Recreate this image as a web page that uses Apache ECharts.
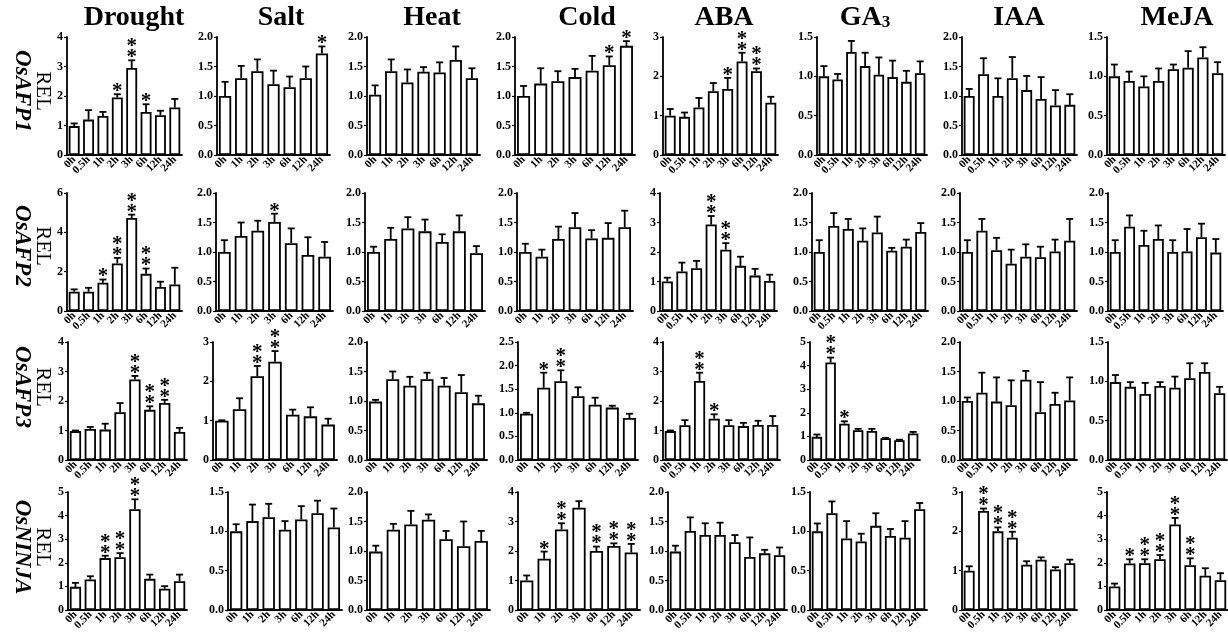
<!DOCTYPE html>
<html>
<head>
<meta charset="utf-8">
<script src="https://cdn.jsdelivr.net/npm/echarts@6/dist/echarts.min.js"></script>
<style>
  html, body { margin: 0; padding: 0; background: #fff; }
  #main { width: 1228px; height: 634px; }
</style>
</head>
<body>
<div id="main"></div>
<script>
// categories
const conditions = ['Drought', 'Salt', 'Heat', 'Cold', 'ABA', 'GA3', 'IAA', 'MeJA'];
const genes = ['OsAFP1', 'OsAFP2', 'OsAFP3', 'OsNINJA'];
const times8 = ['0h', '0.5h', '1h', '2h', '3h', '6h', '12h', '24h'];
const times7 = ['0h', '1h', '2h', '3h', '6h', '12h', '24h'];
const timeSets = [times8, times7, times7, times7, times8, times8, times8, times8];

// y axis max / step per panel (row = gene)
const yMax = [
    [4, 2, 2, 2, 3, 1.5, 2, 1.5],
    [6, 2, 2, 2, 4, 2, 2, 2],
    [4, 3, 2, 2.5, 4, 5, 2, 1.5],
    [5, 1.5, 2, 4, 2, 1.5, 3, 5]
];
const yStep = [
    [1, 0.5, 0.5, 0.5, 1, 0.5, 0.5, 0.5],
    [2, 0.5, 0.5, 0.5, 1, 0.5, 0.5, 0.5],
    [1, 1, 0.5, 0.5, 1, 1, 0.5, 0.5],
    [1, 0.5, 0.5, 1, 0.5, 0.5, 1, 1]
];

// OsAFP1
const afp1Mean = [
    [0.98, 1.2, 1.32, 1.95, 2.95, 1.46, 1.35, 1.61],
    [1.0, 1.3, 1.42, 1.2, 1.15, 1.3, 1.72],
    [1.02, 1.42, 1.23, 1.41, 1.4, 1.61, 1.3],
    [1.0, 1.21, 1.25, 1.32, 1.43, 1.52, 1.85],
    [1.0, 0.97, 1.21, 1.62, 1.68, 2.38, 2.13, 1.33],
    [1.0, 0.96, 1.31, 1.13, 1.02, 0.99, 0.93, 1.04],
    [1.0, 1.37, 1.0, 1.3, 1.1, 0.95, 0.84, 0.85],
    [1.0, 0.94, 0.87, 0.94, 1.09, 1.11, 1.24, 1.04]
];
const afp1Sd = [
    [0.09, 0.32, 0.14, 0.11, 0.26, 0.26, 0.15, 0.29],
    [0.24, 0.21, 0.2, 0.23, 0.18, 0.2, 0.12],
    [0.16, 0.2, 0.22, 0.08, 0.17, 0.23, 0.17],
    [0.17, 0.26, 0.17, 0.14, 0.25, 0.15, 0.08],
    [0.17, 0.11, 0.24, 0.21, 0.28, 0.22, 0.07, 0.15],
    [0.13, 0.07, 0.14, 0.17, 0.22, 0.21, 0.14, 0.15],
    [0.12, 0.27, 0.3, 0.36, 0.24, 0.37, 0.26, 0.18],
    [0.15, 0.12, 0.13, 0.16, 0.06, 0.21, 0.13, 0.14]
];
const afp1Sig = [
    [0, 0, 0, 1, 2, 1, 0, 0],
    [0, 0, 0, 0, 0, 0, 1],
    [0, 0, 0, 0, 0, 0, 0],
    [0, 0, 0, 0, 0, 1, 1],
    [0, 0, 0, 0, 1, 2, 2, 0],
    [0, 0, 0, 0, 0, 0, 0, 0],
    [0, 0, 0, 0, 0, 0, 0, 0],
    [0, 0, 0, 0, 0, 0, 0, 0]
];

// OsAFP2
const afp2Mean = [
    [0.98, 0.98, 1.44, 2.42, 4.73, 1.89, 1.22, 1.35],
    [1.0, 1.27, 1.36, 1.51, 1.15, 0.95, 0.92],
    [1.0, 1.22, 1.4, 1.35, 1.17, 1.35, 0.98],
    [1.0, 0.92, 1.22, 1.42, 1.23, 1.24, 1.42],
    [1.0, 1.34, 1.45, 2.93, 2.08, 1.53, 1.2, 1.02],
    [1.0, 1.44, 1.39, 1.19, 1.33, 1.02, 1.09, 1.34],
    [1.0, 1.36, 1.03, 0.8, 0.92, 0.91, 1.01, 1.19],
    [1.0, 1.43, 1.12, 1.22, 1.0, 1.01, 1.25, 0.99]
];
const afp2Sd = [
    [0.12, 0.2, 0.16, 0.28, 0.17, 0.27, 0.27, 0.85],
    [0.2, 0.23, 0.17, 0.14, 0.25, 0.3, 0.25],
    [0.09, 0.19, 0.19, 0.2, 0.13, 0.27, 0.12],
    [0.14, 0.12, 0.21, 0.24, 0.14, 0.25, 0.28],
    [0.13, 0.3, 0.25, 0.29, 0.22, 0.31, 0.23, 0.21],
    [0.2, 0.22, 0.17, 0.21, 0.27, 0.05, 0.12, 0.15],
    [0.2, 0.2, 0.21, 0.24, 0.21, 0.18, 0.2, 0.37],
    [0.2, 0.19, 0.24, 0.23, 0.2, 0.38, 0.23, 0.23]
];
const afp2Sig = [
    [0, 0, 1, 2, 2, 2, 0, 0],
    [0, 0, 0, 1, 0, 0, 0],
    [0, 0, 0, 0, 0, 0, 0],
    [0, 0, 0, 0, 0, 0, 0],
    [0, 0, 0, 2, 2, 0, 0, 0],
    [0, 0, 0, 0, 0, 0, 0, 0],
    [0, 0, 0, 0, 0, 0, 0, 0],
    [0, 0, 0, 0, 0, 0, 0, 0]
];

// OsAFP3
const afp3Mean = [
    [0.98, 1.05, 1.03, 1.62, 2.73, 1.7, 1.93, 0.95],
    [1.0, 1.29, 2.13, 2.5, 1.15, 1.11, 0.9],
    [0.99, 1.37, 1.26, 1.37, 1.26, 1.15, 0.96],
    [0.98, 1.53, 1.67, 1.35, 1.17, 1.11, 0.89],
    [0.98, 1.18, 2.68, 1.4, 1.18, 1.15, 1.19, 1.19],
    [0.98, 4.13, 1.54, 1.26, 1.23, 0.92, 0.84, 1.12],
    [1.0, 1.14, 0.99, 0.93, 1.36, 0.81, 0.95, 1.01],
    [0.99, 0.93, 0.84, 0.94, 0.92, 1.04, 1.12, 0.85]
];
const afp3Sd = [
    [0.02, 0.07, 0.2, 0.31, 0.12, 0.12, 0.11, 0.14],
    [0.01, 0.28, 0.26, 0.27, 0.13, 0.23, 0.15],
    [0.03, 0.13, 0.15, 0.11, 0.13, 0.29, 0.13],
    [0.02, 0.32, 0.23, 0.19, 0.15, 0.04, 0.09],
    [0.02, 0.17, 0.28, 0.15, 0.17, 0.11, 0.14, 0.3],
    [0.1, 0.21, 0.1, 0.06, 0.09, 0.02, 0.02, 0.07],
    [0.06, 0.34, 0.41, 0.42, 0.15, 0.51, 0.19, 0.39],
    [0.09, 0.06, 0.14, 0.05, 0.14, 0.19, 0.11, 0.08]
];
const afp3Sig = [
    [0, 0, 0, 0, 2, 2, 2, 0],
    [0, 0, 2, 2, 0, 0, 0],
    [0, 0, 0, 0, 0, 0, 0],
    [0, 1, 2, 0, 0, 0, 0],
    [0, 0, 2, 1, 0, 0, 0, 0],
    [0, 2, 1, 0, 0, 0, 0, 0],
    [0, 0, 0, 0, 0, 0, 0, 0],
    [0, 0, 0, 0, 0, 0, 0, 0]
];

// OsNINJA
const ninjaMean = [
    [0.98, 1.29, 2.2, 2.24, 4.27, 1.32, 0.9, 1.22],
    [1.0, 1.13, 1.18, 1.02, 1.15, 1.23, 1.05],
    [0.99, 1.36, 1.45, 1.53, 1.2, 1.08, 1.17],
    [1.0, 1.74, 2.73, 3.47, 2.0, 2.17, 1.95],
    [0.99, 1.34, 1.27, 1.27, 1.15, 0.9, 0.96, 0.93],
    [1.0, 1.23, 0.91, 0.87, 1.07, 0.94, 0.92, 1.28],
    [1.0, 2.52, 2.0, 1.84, 1.15, 1.28, 1.03, 1.19],
    [1.0, 1.97, 1.98, 2.15, 3.62, 1.9, 1.45, 1.26]
];
const ninjaSd = [
    [0.17, 0.14, 0.1, 0.17, 0.42, 0.18, 0.11, 0.28],
    [0.09, 0.21, 0.17, 0.11, 0.17, 0.16, 0.24],
    [0.1, 0.1, 0.23, 0.09, 0.14, 0.42, 0.17],
    [0.17, 0.24, 0.21, 0.22, 0.15, 0.09, 0.29],
    [0.1, 0.23, 0.2, 0.21, 0.12, 0.33, 0.06, 0.13],
    [0.1, 0.15, 0.22, 0.1, 0.16, 0.09, 0.21, 0.08],
    [0.11, 0.06, 0.1, 0.15, 0.09, 0.06, 0.06, 0.09],
    [0.12, 0.18, 0.17, 0.18, 0.28, 0.29, 0.32, 0.3]
];
const ninjaSig = [
    [0, 0, 2, 2, 2, 0, 0, 0],
    [0, 0, 0, 0, 0, 0, 0],
    [0, 0, 0, 0, 0, 0, 0],
    [0, 1, 2, 0, 2, 2, 2],
    [0, 0, 0, 0, 0, 0, 0, 0],
    [0, 0, 0, 0, 0, 0, 0, 0],
    [0, 2, 2, 2, 0, 0, 0, 0],
    [0, 1, 2, 2, 2, 2, 0, 0]
];

const means = [afp1Mean, afp2Mean, afp3Mean, ninjaMean];
const sds = [afp1Sd, afp2Sd, afp3Sd, ninjaSd];
const sigs = [afp1Sig, afp2Sig, afp3Sig, ninjaSig];

// layout (pixels)
const rowTop = [37, 193, 342, 492];
const panelH = 118;
const panelX = [
    [[67, 182], [217, 330], [367, 480], [515, 635], [663, 778], [817, 927], [962, 1077], [1107, 1225]],
    [[67, 182], [216, 333], [365, 485], [517, 633], [660, 777], [812, 928], [960, 1077], [1108, 1223]],
    [[68, 187], [213, 337], [367, 487], [518, 638], [663, 780], [810, 920], [960, 1077], [1108, 1227]],
    [[68, 187], [228, 342], [367, 490], [518, 640], [668, 787], [810, 927], [962, 1077], [1107, 1228]]
];
const titleX = [134, 281, 432, 587, 724, 865, 1019, 1177];
const serif = '"Liberation Serif", "Times New Roman", serif';

function renderErr(params, api) {
    const idx = api.value(0);
    const m = api.value(1);
    const sd = api.value(2);
    const n = api.value(3);
    const base = api.coord([idx, m]);
    const top = api.coord([idx, m + sd]);
    const cap = 3.5;
    const children = [
        { type: 'line', shape: { x1: base[0], y1: base[1], x2: top[0], y2: top[1] }, style: { stroke: '#000', lineWidth: 1.8 } },
        { type: 'line', shape: { x1: top[0] - cap, y1: top[1], x2: top[0] + cap, y2: top[1] }, style: { stroke: '#000', lineWidth: 1.8 } }
    ];
    for (let s = 0; s < n; s++) {
        children.push({
            type: 'text',
            x: top[0],
            y: top[1] + 8 - s * 11,
            style: { text: '*', fill: '#000', font: 'bold 21px ' + serif, align: 'center', verticalAlign: 'bottom' }
        });
    }
    return { type: 'group', children: children };
}

const grids = [], xAxes = [], yAxes = [], series = [];
genes.forEach(function (g, r) {
    conditions.forEach(function (c, k) {
        const i = r * 8 + k;
        const times = timeSets[k];
        const step = yStep[r][k];
        grids.push({
            left: panelX[r][k][0],
            width: panelX[r][k][1] - panelX[r][k][0],
            top: rowTop[r],
            height: panelH
        });
        xAxes.push({
            type: 'category',
            gridIndex: i,
            data: times,
            axisLine: { lineStyle: { color: '#000', width: 1.8 } },
            axisTick: { show: false },
            axisLabel: {
                interval: 0, rotate: 45, margin: 3,
                color: '#000', fontFamily: serif, fontWeight: 'bold', fontSize: 11
            }
        });
        yAxes.push({
            type: 'value',
            gridIndex: i,
            min: 0,
            max: yMax[r][k],
            interval: step,
            splitLine: { show: false },
            axisLine: { show: true, lineStyle: { color: '#000', width: 1.8 } },
            axisTick: { show: true, length: 3, lineStyle: { color: '#000', width: 1.2 } },
            axisLabel: {
                margin: 4, color: '#000', fontFamily: serif, fontWeight: 'bold', fontSize: 12,
                formatter: function (v) { return step < 1 ? v.toFixed(1) : String(v); }
            }
        });
        series.push({
            type: 'bar',
            xAxisIndex: i,
            yAxisIndex: i,
            data: means[r][k],
            barWidth: '76%',
            itemStyle: { color: '#fff', borderColor: '#000', borderWidth: 1.8 },
            silent: true
        });
        series.push({
            type: 'custom',
            xAxisIndex: i,
            yAxisIndex: i,
            renderItem: renderErr,
            encode: { x: 0, y: 1 },
            data: times.map(function (t, j) { return [j, means[r][k][j], sds[r][k][j], sigs[r][k][j]]; }),
            z: 5,
            silent: true
        });
    });
});

const graphics = [];
conditions.forEach(function (c, k) {
    const txt = c === 'GA3' ? '{a|GA}{b|3}' : '{a|' + c + '}';
    graphics.push({
        type: 'text', x: titleX[k], y: 18,
        style: {
            text: txt, align: 'center', verticalAlign: 'middle',
            rich: {
                a: { font: 'bold 28px ' + serif, fill: '#000' },
                b: { font: 'bold 17px ' + serif, fill: '#000', padding: [9, 0, 0, 0] }
            }
        }
    });
});
const rowLabelY = [91, 246, 387, 547];
genes.forEach(function (g, r) {
    graphics.push({
        type: 'text', x: 43, y: rowLabelY[r], rotation: -Math.PI / 2,
        style: { text: 'REL', font: '21px ' + serif, fill: '#000', align: 'center', verticalAlign: 'middle' }
    });
    graphics.push({
        type: 'text', x: 22, y: rowLabelY[r], rotation: -Math.PI / 2,
        style: { text: g, font: 'italic bold 23px ' + serif, fill: '#000', align: 'center', verticalAlign: 'middle' }
    });
});

const myChart = echarts.init(document.getElementById('main'), null, { renderer: 'canvas' });
myChart.setOption({
    animation: false,
    backgroundColor: '#fff',
    grid: grids,
    xAxis: xAxes,
    yAxis: yAxes,
    series: series,
    graphic: graphics
});
</script>
</body>
</html>
